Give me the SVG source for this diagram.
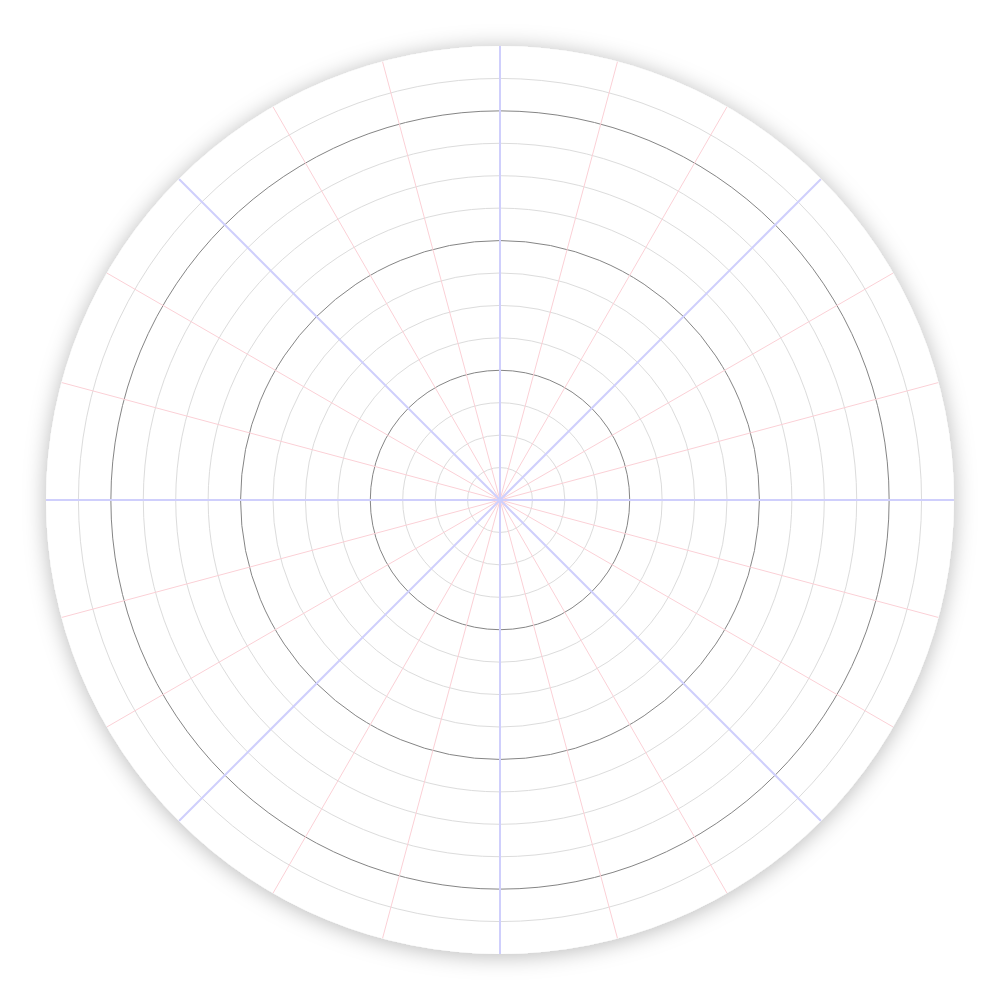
<svg xmlns="http://www.w3.org/2000/svg" width="1000" height="1000" viewBox="0 0 1000 1000">
<defs>
<filter id="sh" x="-10%" y="-10%" width="120%" height="120%">
<feDropShadow dx="0" dy="2" stdDeviation="11" flood-color="#000" flood-opacity="0.28"/>
</filter>
<clipPath id="cp"><circle cx="500" cy="500" r="454"/></clipPath>
</defs>
<style>
.ring{fill:none;stroke:#dcdcdc;stroke-width:1}
.major{fill:none;stroke:#858585;stroke-width:1}
.pink{stroke:#fbd0d6;stroke-width:1}
.blue{stroke:#cfcffc;stroke-width:2}
</style>
<rect width="1000" height="1000" fill="#fff"/>
<g id="disc">
<circle cx="500" cy="500" r="454" fill="#fff" filter="url(#sh)"/>
</g>
<g id="rings">
<circle class="ring" cx="500" cy="500" r="32.43"/>
<circle class="ring" cx="500" cy="500" r="64.86"/>
<circle class="ring" cx="500" cy="500" r="97.29"/>
<circle class="major" cx="500" cy="500" r="129.71"/>
<circle class="ring" cx="500" cy="500" r="162.14"/>
<circle class="ring" cx="500" cy="500" r="194.57"/>
<circle class="ring" cx="500" cy="500" r="227"/>
<circle class="major" cx="500" cy="500" r="259.43"/>
<circle class="ring" cx="500" cy="500" r="291.86"/>
<circle class="ring" cx="500" cy="500" r="324.29"/>
<circle class="ring" cx="500" cy="500" r="356.71"/>
<circle class="major" cx="500" cy="500" r="389.14"/>
<circle class="ring" cx="500" cy="500" r="421.57"/>
</g>
<g id="connectors" clip-path="url(#cp)">
<g class="pink">
<line x1="500" y1="500" x2="938.5" y2="382.5"/>
<line x1="500" y1="500" x2="893.2" y2="273"/>
<line x1="500" y1="500" x2="727" y2="106.8"/>
<line x1="500" y1="500" x2="617.5" y2="61.5"/>
<line x1="500" y1="500" x2="382.5" y2="61.5"/>
<line x1="500" y1="500" x2="273" y2="106.8"/>
<line x1="500" y1="500" x2="106.8" y2="273"/>
<line x1="500" y1="500" x2="61.5" y2="382.5"/>
<line x1="500" y1="500" x2="61.5" y2="617.5"/>
<line x1="500" y1="500" x2="106.8" y2="727"/>
<line x1="500" y1="500" x2="273" y2="893.2"/>
<line x1="500" y1="500" x2="382.5" y2="938.5"/>
<line x1="500" y1="500" x2="617.5" y2="938.5"/>
<line x1="500" y1="500" x2="727" y2="893.2"/>
<line x1="500" y1="500" x2="893.2" y2="727"/>
<line x1="500" y1="500" x2="938.5" y2="617.5"/>
</g>
<g class="blue">
<line x1="46" y1="500" x2="954" y2="500"/>
<line x1="500" y1="46" x2="500" y2="954"/>
<line x1="178.97" y1="178.97" x2="821.03" y2="821.03"/>
<line x1="178.97" y1="821.03" x2="821.03" y2="178.97"/>
</g>
</g>
</svg>
